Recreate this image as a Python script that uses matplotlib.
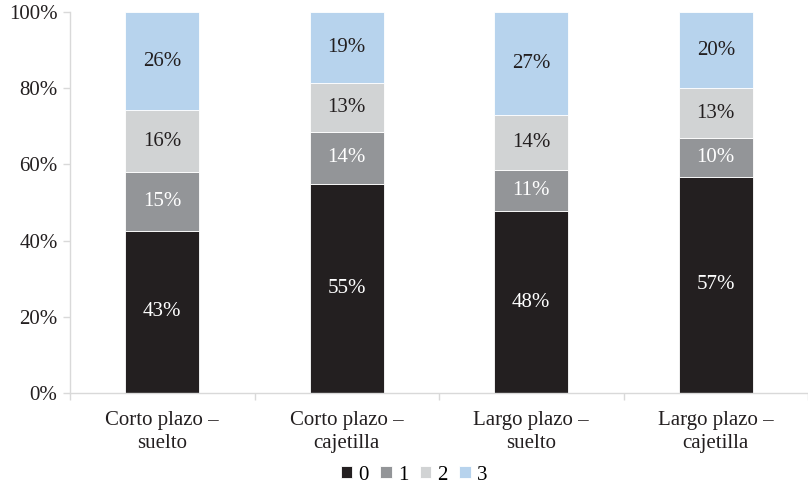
import matplotlib
matplotlib.use("Agg")
import matplotlib.pyplot as plt
import numpy as np
from matplotlib.ticker import FuncFormatter, FixedLocator

plt.rcParams['font.family'] = ['Liberation Serif', 'DejaVu Serif']

categories = ["Corto plazo –\nsuelto", "Corto plazo –\ncajetilla",
              "Largo plazo –\nsuelto", "Largo plazo –\ncajetilla"]
series_names = ["0", "1", "2", "3"]
values_0 = [42.6, 54.9, 47.7, 56.7]
values_1 = [15.4, 13.6, 10.9, 10.2]
values_2 = [16.2, 12.9, 14.3, 13.1]
values_3 = [25.8, 18.6, 27.1, 20.0]
colors = ["#231f20", "#939598", "#d1d3d4", "#b7d3ed"]
text_colors = ["white", "white", "#231f20", "#231f20"]

fig = plt.figure(figsize=(8.08, 4.86), dpi=100)
ax = fig.add_axes([70 / 808, 1 - 393 / 486, 738 / 808, 381 / 486])

x = np.arange(len(categories))
bottom = np.zeros(len(categories))
for name, vals, col, tcol in zip(series_names, [values_0, values_1, values_2, values_3],
                                 colors, text_colors):
    vals = np.array(vals)
    ax.bar(x, vals, 0.4, bottom=bottom, color=col, label=name,
           edgecolor="white", linewidth=0.6)
    for xi, b, v in zip(x, bottom, vals):
        ax.text(xi, b + v / 2, f"{v:.0f}%", ha="center", va="center",
                color=tcol, fontsize=15)
    bottom += vals

ax.set_xlim(-0.5, len(categories) - 0.5)
ax.set_ylim(0, 100)
ax.set_yticks(np.arange(0, 101, 20))
ax.yaxis.set_major_formatter(FuncFormatter(lambda v, p: f"{v:.0f}%"))
ax.set_xticks(x)
ax.set_xticklabels(categories, fontsize=15, linespacing=1.3)
ax.xaxis.set_minor_locator(FixedLocator(np.arange(-0.5, len(categories), 1.0)))
ax.tick_params(axis="x", which="major", length=0, pad=13, colors="#231f20")
ax.tick_params(axis="x", which="minor", length=5, color="#d9d9d9", width=1)
ax.tick_params(axis="y", length=5, color="#d9d9d9", width=1, labelsize=15,
               labelcolor="#231f20", pad=4)

for side in ["top", "right"]:
    ax.spines[side].set_visible(False)
for side in ["left", "bottom"]:
    ax.spines[side].set_color("#d9d9d9")
    ax.spines[side].set_linewidth(1)

handles, labels = ax.get_legend_handles_labels()
fig.legend(handles, labels, loc="center", bbox_to_anchor=(414 / 808, 1 - 475 / 486),
           ncol=4, frameon=False, fontsize=15, handlelength=0.55, handleheight=0.55,
           handletextpad=0.3, columnspacing=0.55)

fig.savefig("out.png", dpi=100)
